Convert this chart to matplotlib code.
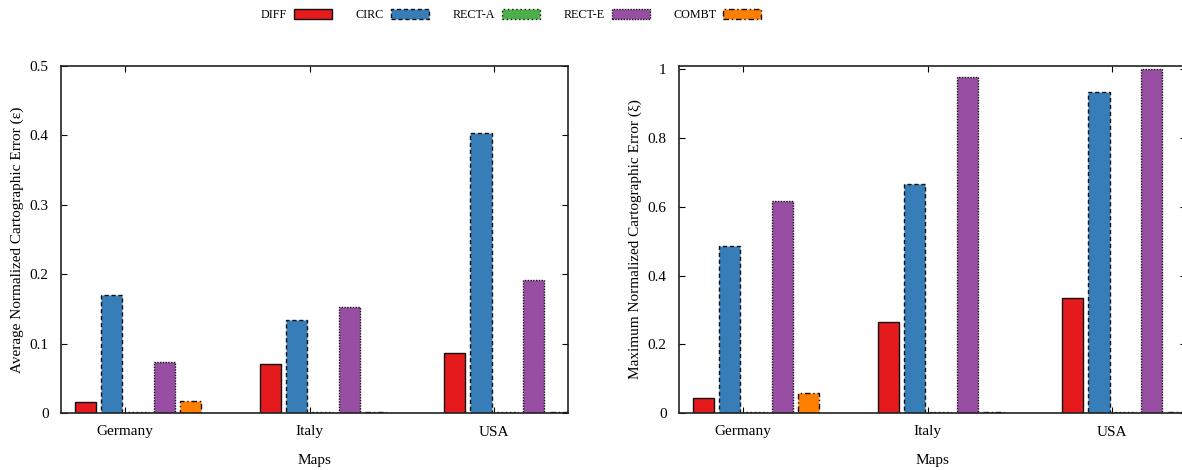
import matplotlib
matplotlib.use("Agg")
import matplotlib.pyplot as plt
import numpy as np

plt.rcParams['font.family'] = ['Liberation Serif', 'DejaVu Serif']
plt.rcParams['font.size'] = 11

# données
maps = ["Germany", "Italy", "USA"]
methods = ["DIFF", "CIRC", "RECT-A", "RECT-E", "COMBT"]

avg_diff = [0.016, 0.070, 0.087]
avg_circ = [0.170, 0.134, 0.403]
avg_recta = [0.001, 0.001, 0.001]
avg_recte = [0.073, 0.153, 0.191]
avg_combt = [0.018, 0.002, 0.001]

max_diff = [0.045, 0.264, 0.334]
max_circ = [0.487, 0.667, 0.935]
max_recta = [0.002, 0.003, 0.002]
max_recte = [0.617, 0.977, 1.0]
max_combt = [0.058, 0.004, 0.003]

avg_ticks = [0, 0.1, 0.2, 0.3, 0.4, 0.5]
avg_ticklabels = ["0", "0.1", "0.2", "0.3", "0.4", "0.5"]
max_ticks = [0, 0.2, 0.4, 0.6, 0.8, 1.0]
max_ticklabels = ["0", "0.2", "0.4", "0.6", "0.8", "1"]

colors = ["#e41a1c", "#377eb8", "#4daf4a", "#984ea3", "#ff7f00"]
styles = ["-", (0, (3, 2)), (0, (1, 2)), (0, (1, 1)), (0, (4, 2, 1, 2))]

W, H = 1182, 470
fig = plt.figure(figsize=(W / 100, H / 100), dpi=100)

ax1 = fig.add_axes([61 / W, 1 - 413 / H, 507 / W, 347 / H])
ax2 = fig.add_axes([679 / W, 1 - 413 / H, 507 / W, 347 / H])

x = np.arange(len(maps))
slot = 1 / 7
width = 0.114


def draw(ax, series, ylim, ticks, ticklabels, ylabel):
    handles = []
    for k, vals in enumerate(series):
        b = ax.bar(x + (k - 1.5) * slot, vals, width, color=colors[k],
                   edgecolor="#111111", linewidth=1.0, linestyle=styles[k],
                   label=methods[k])
        handles.append(b)
    ax.set_xlim(-0.347, 2.40)
    ax.set_ylim(*ylim)
    ax.set_xticks(x)
    ax.set_xticklabels(maps)
    ax.set_yticks(ticks)
    ax.set_yticklabels(ticklabels)
    ax.tick_params(direction="in", top=True, right=True, length=4.5,
                   width=0.8, pad=9, labelsize=11)
    ax.set_xlabel("Maps", labelpad=11)
    ax.set_ylabel(ylabel, labelpad=4)
    for s in ax.spines.values():
        s.set_linewidth(1.2)
        s.set_color("#222222")
    return handles


handles = draw(ax1, [avg_diff, avg_circ, avg_recta, avg_recte, avg_combt],
               (0, 0.5), avg_ticks, avg_ticklabels,
               "Average Normalized Cartographic Error (ε)")
draw(ax2, [max_diff, max_circ, max_recta, max_recte, max_combt],
     (0, 1.01), max_ticks, max_ticklabels,
     "Maximum Normalized Cartographic Error (ξ)")

fig.legend(handles, methods, loc="center", ncol=5,
           bbox_to_anchor=(511 / W, 1 - 15 / H), frameon=False,
           markerfirst=False, handlelength=3.15, handleheight=0.9,
           handletextpad=0.58, columnspacing=1.95, fontsize=8.7)

fig.savefig("out.png", dpi=100)
